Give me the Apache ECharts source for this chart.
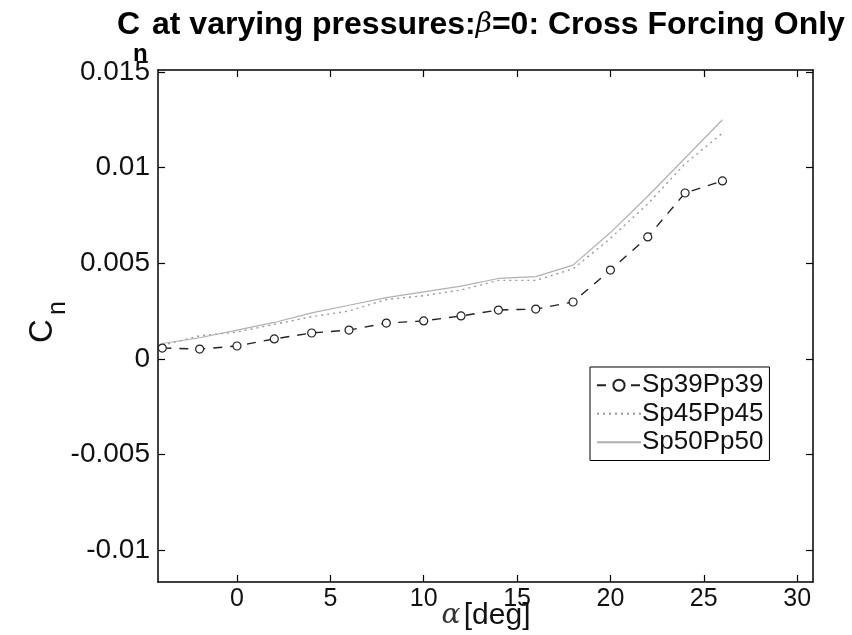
<!DOCTYPE html>
<html>
<head>
<meta charset="utf-8">
<script src="https://cdn.jsdelivr.net/npm/echarts@6/dist/echarts.min.js"></script>
<style>html,body{margin:0;padding:0;background:#fff}#c{width:852px;height:635px}</style>
</head>
<body>
<div id="c"></div>
<script>
const alpha = [-4, -2, 0, 2, 4, 6, 8, 10, 12, 14, 16, 18, 20, 22, 24, 26];
const sp39 = [0.00056, 0.00051, 0.00067, 0.00104, 0.00135, 0.0015, 0.00187, 0.00198, 0.00224, 0.00255, 0.0026, 0.00297, 0.00464, 0.00637, 0.00867, 0.0093];
const sp45 = [0.0007, 0.0012, 0.0014, 0.0018, 0.0022, 0.0025, 0.0031, 0.0033, 0.0036, 0.0041, 0.0041, 0.0047, 0.0063, 0.0081, 0.0102, 0.0118];
const sp50 = [0.0008, 0.0011, 0.0015, 0.0019, 0.0024, 0.0028, 0.0032, 0.0035, 0.0038, 0.0042, 0.0043, 0.0049, 0.0066, 0.0085, 0.0105, 0.0125];
const seriesNames = ['Sp39Pp39', 'Sp45Pp45', 'Sp50Pp50'];
const xTicks = [0, 5, 10, 15, 20, 25, 30];
const yTicks = [-0.01, -0.005, 0, 0.005, 0.01, 0.015];
const xRange = [-4.23, 30.85];
const yRange = [-0.01167, 0.0151];

const FONT = "'Liberation Sans', Helvetica, Arial, sans-serif";
const chart = echarts.init(document.getElementById('c'), null, {renderer: 'canvas'});

function pairs(ys) { return alpha.map((a, i) => [a, ys[i]]); }

const baseX = {
  type: 'value', min: xRange[0], max: xRange[1],
  splitLine: {show: false},
  axisLine: {show: true, onZero: false, lineStyle: {color: '#000', width: 1.5}},
  axisTick: {show: true, inside: true, length: 7, customValues: xTicks, lineStyle: {color: '#000', width: 1.2}},
};
const baseY = {
  type: 'value', min: yRange[0], max: yRange[1],
  splitLine: {show: false},
  axisLine: {show: true, onZero: false, lineStyle: {color: '#000', width: 1.5}},
  axisTick: {show: true, inside: true, length: 7, customValues: yTicks, lineStyle: {color: '#000', width: 1.2}},
};
const hidden = {color: 'rgba(0,0,0,0)', borderColor: 'rgba(0,0,0,0)', borderWidth: 0};

chart.setOption({
  animation: false,
  backgroundColor: '#fff',
  grid: {left: 158, right: 39, top: 70, bottom: 53, containLabel: false},
  xAxis: [
    Object.assign({}, baseX, {position: 'bottom',
      axisLabel: {show: true, customValues: xTicks, margin: 5, color: '#111', fontSize: 25, fontFamily: FONT}}),
    Object.assign({}, baseX, {position: 'top', axisLabel: {show: false}})
  ],
  yAxis: [
    Object.assign({}, baseY, {position: 'left',
      axisLabel: {show: true, customValues: yTicks, margin: 8, color: '#111', fontSize: 28, fontFamily: FONT,
        formatter: v => (Math.abs(v) < 1e-12 ? '0' : String(+v.toFixed(4)))}}),
    Object.assign({}, baseY, {position: 'right', axisLabel: {show: false}})
  ],
  legend: {
    show: true, orient: 'vertical', left: 590, top: 367,
    data: [
      {name: seriesNames[0]},
      {name: seriesNames[1], itemStyle: hidden},
      {name: seriesNames[2], itemStyle: hidden}
    ],
    backgroundColor: '#fff', borderColor: '#000', borderWidth: 1,
    padding: [4, 6, 4, 6], itemGap: 0, itemWidth: 44, itemHeight: 14,
    textStyle: {fontSize: 26, fontFamily: FONT, color: '#111', lineHeight: 28.5, padding: [0, 0, 0, -4]}
  },
  series: [
    {name: seriesNames[0], type: 'line', data: pairs(sp39), symbol: 'circle', symbolSize: 8,
      itemStyle: {color: '#fff', borderColor: '#222', borderWidth: 1.2},
      lineStyle: {color: '#222', width: 1.4, type: [9, 8]}, z: 5},
    {name: seriesNames[1], type: 'line', data: pairs(sp45), symbol: 'none',
      itemStyle: {color: '#999'},
      lineStyle: {color: '#999', width: 1.4, type: [2, 4]}, z: 3},
    {name: seriesNames[2], type: 'line', data: pairs(sp50), symbol: 'none',
      itemStyle: {color: '#b0b0b0'},
      lineStyle: {color: '#b0b0b0', width: 1.2, type: 'solid'}, z: 4}
  ],
  graphic: [
    {type: 'text', left: 117, top: 9, style: {text: 'C', font: 'bold 32px ' + FONT, fill: '#000'}},
    {type: 'text', left: 133, top: 42, style: {text: 'n', font: 'bold 24px ' + FONT, fill: '#000'}},
    {type: 'text', left: 152, top: 9, style: {
      text: '{a|at varying pressures:}{b|β}{a|=0: Cross Forcing Only}',
      rich: {
        a: {font: 'bold 32px ' + FONT, fill: '#000'},
        b: {font: 'italic 28px ' + "'DejaVu Serif', serif", fill: '#000'}
      }}},
    {type: 'text', x: 43, y: 331, rotation: Math.PI / 2,
      style: {text: 'C', font: '33px ' + FONT, fill: '#111', align: 'center', verticalAlign: 'middle'}},
    {type: 'text', x: 58, y: 308, rotation: Math.PI / 2,
      style: {text: 'n', font: '25px ' + FONT, fill: '#111', align: 'center', verticalAlign: 'middle'}},
    {type: 'text', x: 486, y: 616, style: {
      text: '{g|α} {t|[deg]}', align: 'center', verticalAlign: 'middle',
      rich: {
        g: {font: 'italic 28px ' + "'DejaVu Serif', serif", fill: '#333'},
        t: {font: '30px ' + FONT, fill: '#111'}
      }}}
  ]
});
</script>
</body>
</html>
